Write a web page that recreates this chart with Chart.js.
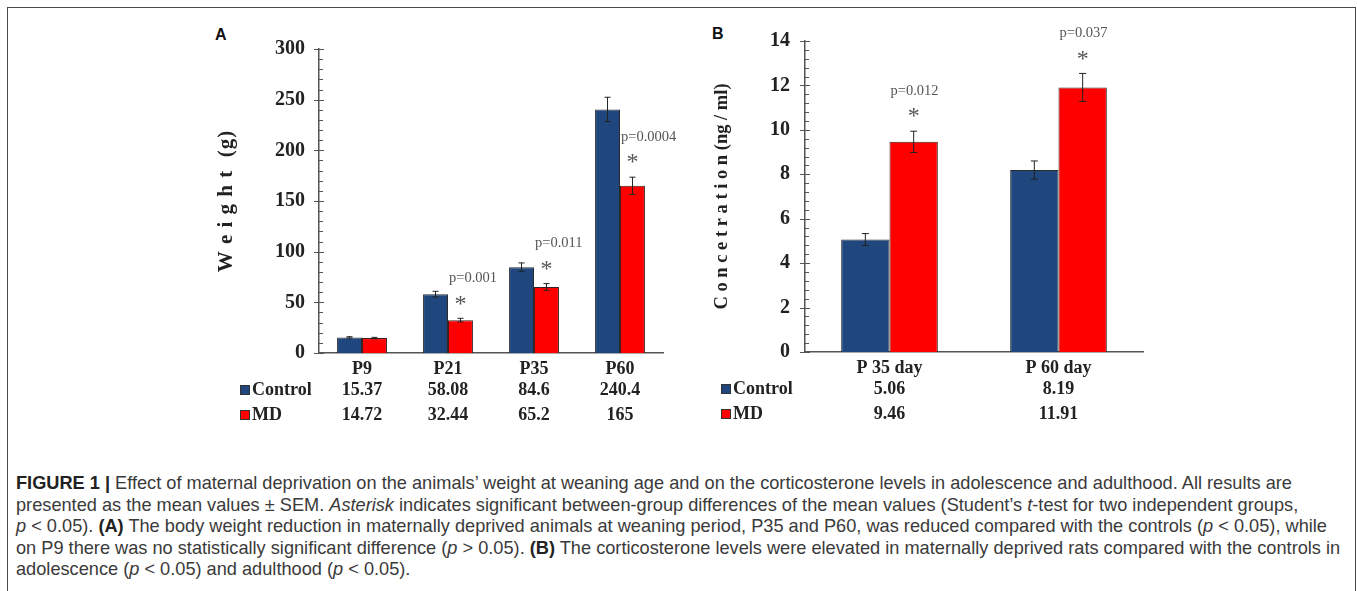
<!DOCTYPE html>
<html><head><meta charset="utf-8">
<script src="https://cdn.jsdelivr.net/npm/chart.js@4.4.1/dist/chart.umd.min.js"></script>
<style>
html,body{margin:0;padding:0;background:#fff;width:1357px;height:591px;overflow:hidden;position:relative}
#frame{position:absolute;left:7px;top:7px;width:1349px;height:640px;border:1.5px solid #4a4a4a;border-bottom:none;box-sizing:border-box}
.chart{position:absolute}
#wa{left:200px;top:20px;width:480px;height:420px}
#wb{left:700px;top:20px;width:460px;height:420px}
.panel{position:absolute;font:bold 16px "Liberation Sans",Arial,sans-serif;line-height:16px;color:#111}
#caption{position:absolute;left:16px;top:473px;font-family:"Liberation Sans",Arial,sans-serif;font-size:16px;color:#3a3a3a;line-height:21.5px;white-space:nowrap}
#caption b{color:#222}
</style></head>
<body>
<div id="frame"></div>
<div class="panel" style="left:215px;top:27px">A</div>
<div class="panel" style="left:712px;top:26px">B</div>
<div class="chart" id="wa"><canvas id="ca"></canvas></div>
<div class="chart" id="wb"><canvas id="cb"></canvas></div>
<div id="caption">
<div id="l1"><b>FIGURE 1 |</b> Effect of maternal deprivation on the animals’ weight at weaning age and on the corticosterone levels in adolescence and adulthood. All results are</div>
<div>presented as the mean values ± SEM. <i>Asterisk</i> indicates significant between-group differences of the mean values (Student’s <i>t</i>-test for two independent groups,</div>
<div><i>p</i> &lt; 0.05). <b>(A)</b> The body weight reduction in maternally deprived animals at weaning period, P35 and P60, was reduced compared with the controls (<i>p</i> &lt; 0.05), while</div>
<div>on P9 there was no statistically significant difference (<i>p</i> &gt; 0.05). <b>(B)</b> The corticosterone levels were elevated in maternally deprived rats compared with the controls in</div>
<div>adolescence (<i>p</i> &lt; 0.05) and adulthood (<i>p</i> &lt; 0.05).</div>
</div>
<script>
// ---------- Data ----------
const seriesNames = ['Control', 'MD'];
const categoriesA = ['P9', 'P21', 'P35', 'P60'];
const controlA = [15.37, 58.08, 84.6, 240.4];
const mdA = [14.72, 32.44, 65.2, 165];
const controlErrA = [0.7, 2.8, 4.3, 12];
const mdErrA = [0.7, 1.8, 3.3, 8.5];
const pLabelsA = ['', 'p=0.001', 'p=0.011', 'p=0.0004'];
const yTitleA = 'W e i g h t  (g)';

const categoriesB = ['P 35 day', 'P 60 day'];
const controlB = [5.06, 8.19];
const mdB = [9.46, 11.91];
const controlErrB = [0.27, 0.41];
const mdErrB = [0.48, 0.63];
const pLabelsB = ['p=0.012', 'p=0.037'];
const yTitleB = 'C o n c e t r a t i o n (ng / ml)';

// ---------- Styles ----------
const BLUE = '#1f477e';
const RED = '#ff0000';
const SERIF = '"Liberation Serif","Times New Roman",serif';

function extrasPlugin(cfg) {
  return {
    id: 'extras',
    afterDatasetsDraw(chart) {
      const ctx = chart.ctx, y = chart.scales.y, x = chart.scales.x, area = chart.chartArea;
      ctx.save();
      // error bars
      chart.data.datasets.forEach((ds, di) => {
        const meta = chart.getDatasetMeta(di);
        meta.data.forEach((bar, i) => {
          const v = ds.data[i], e = ds.errors[i];
          const yt = y.getPixelForValue(v + e), yb = y.getPixelForValue(v - e);
          ctx.strokeStyle = '#222'; ctx.lineWidth = 1;
          ctx.beginPath();
          ctx.moveTo(bar.x, yt); ctx.lineTo(bar.x, yb);
          ctx.moveTo(bar.x - cfg.cap, yt); ctx.lineTo(bar.x + cfg.cap, yt);
          ctx.moveTo(bar.x - cfg.cap, yb); ctx.lineTo(bar.x + cfg.cap, yb);
          ctx.stroke();
        });
      });
      // significance annotations on MD bars
      const mdMeta = chart.getDatasetMeta(1), mdDs = chart.data.datasets[1];
      cfg.pLabels.forEach((lab, i) => {
        if (!lab) return;
        const bar = mdMeta.data[i];
        const top = y.getPixelForValue(mdDs.data[i] + mdDs.errors[i]);
        ctx.fillStyle = '#555';
        ctx.textBaseline = 'middle';
        ctx.font = '14.5px ' + SERIF;
        ctx.textAlign = 'left';
        ctx.fillText(lab, bar.x - bar.width / 2 + 1, top - 40);
        ctx.font = '24px ' + SERIF;
        ctx.textAlign = 'center';
        ctx.fillText('*', bar.x, top - 14);
      });
      // y axis tick marks (major crossing, minor inside)
      ctx.strokeStyle = '#555'; ctx.lineWidth = 1;
      const n = Math.round((cfg.max - cfg.min) / cfg.minor);
      const every = Math.round(cfg.step / cfg.minor);
      ctx.beginPath();
      for (let k = 0; k <= n; k++) {
        const py = Math.round(y.getPixelForValue(cfg.min + k * cfg.minor)) + 0.5;
        if (k % every === 0) { ctx.moveTo(area.left - 5, py); ctx.lineTo(area.left + 5, py); }
        else { ctx.moveTo(area.left, py); ctx.lineTo(area.left + 4, py); }
      }
      ctx.stroke();
      // y title
      ctx.save();
      ctx.translate(area.left - cfg.titleOffset, (area.top + area.bottom) / 2);
      ctx.rotate(-Math.PI / 2);
      ctx.textAlign = 'center'; ctx.textBaseline = 'middle';
      ctx.fillStyle = '#222';
      ctx.font = 'bold ' + cfg.titleSize + 'px ' + SERIF;
      if ('letterSpacing' in ctx) ctx.letterSpacing = cfg.titleSpacing;
      ctx.fillText(cfg.title, 0, 0);
      if ('letterSpacing' in ctx) ctx.letterSpacing = '0px';
      ctx.restore();
      // legend table
      ctx.font = 'bold 18px ' + SERIF;
      ctx.textBaseline = 'middle';
      chart.data.datasets.forEach((ds, di) => {
        const ry = area.bottom + cfg.rowY[di];
        const sx = area.left - cfg.sqOffset;
        ctx.fillStyle = ds.backgroundColor;
        ctx.fillRect(sx, ry - 5, 10, 10);
        ctx.strokeStyle = '#333'; ctx.lineWidth = 1;
        ctx.strokeRect(sx + 0.5, ry - 4.5, 9, 9);
        ctx.fillStyle = '#222';
        ctx.textAlign = 'left';
        ctx.fillText(ds.label, sx + 12, ry);
        ctx.textAlign = 'center';
        ds.data.forEach((v, i) => ctx.fillText(String(v), x.getPixelForValue(i), ry));
      });
      ctx.restore();
    }
  };
}

function makeChart(id, cats, ctrl, md, ctrlErr, mdErr, yMin, yMax, step, pad, catPct, cfg) {
  return new Chart(document.getElementById(id), {
    type: 'bar',
    data: {
      labels: cats,
      datasets: [
        { label: seriesNames[0], data: ctrl, errors: ctrlErr, backgroundColor: BLUE, borderColor: '#2a2a2a', borderWidth: 1 },
        { label: seriesNames[1], data: md, errors: mdErr, backgroundColor: RED, borderColor: '#3a2020', borderWidth: 1 }
      ]
    },
    options: {
      responsive: true, maintainAspectRatio: false, animation: false,
      devicePixelRatio: 1,
      layout: { padding: pad },
      datasets: { bar: { categoryPercentage: catPct, barPercentage: 1.0 } },
      plugins: { legend: { display: false }, tooltip: { enabled: false } },
      scales: {
        x: {
          grid: { display: false, drawTicks: false, tickLength: 0 },
          border: { display: true, color: '#555', width: 1.5 },
          ticks: { font: { family: SERIF, weight: 'bold', size: 18 }, color: '#222', padding: 6 },
          afterFit(s) { s.height = 30; }
        },
        y: {
          min: yMin, max: yMax,
          grid: { display: false, drawTicks: false, tickLength: 0 },
          border: { display: true, color: '#555', width: 1.5 },
          ticks: { stepSize: step, font: { family: SERIF, weight: 'bold', size: 20 }, color: '#222', padding: cfg.tickPad },
          afterFit(s) { s.width = 60; s.paddingTop = 8; s.paddingBottom = 8; }
        }
      }
    },
    plugins: [extrasPlugin(cfg)]
  });
}

makeChart('ca', categoriesA, controlA, mdA, controlErrA, mdErrA, 0, 300, 50,
  { left: 59, right: 17, top: 29, bottom: 57 }, 0.58,
  { cap: 3, pLabels: pLabelsA, min: 0, max: 300, step: 50, minor: 10, tickPad: 14,
    title: yTitleA, titleSize: 21, titleSpacing: '1px', titleOffset: 92, rowY: [37, 62], sqOffset: 79 });

makeChart('cb', categoriesB, controlB, mdB, controlErrB, mdErrB, 0, 14, 2,
  { left: 45, right: 17, top: 21, bottom: 58 }, 0.572,
  { cap: 3.5, pLabels: pLabelsB, min: 0, max: 14, step: 2, minor: 0.4, tickPad: 15,
    title: yTitleB, titleSize: 18.5, titleSpacing: '0px', titleOffset: 83, rowY: [37, 62], sqOffset: 84 });

// fit caption font so the first line spans the same width as the reference
(function () {
  const cap = document.getElementById('caption');
  const l1 = document.getElementById('l1');
  const r = document.createRange(); r.selectNodeContents(l1);
  const w = r.getBoundingClientRect().width;
  const fs = 16 * 1277 / w;
  cap.style.fontSize = fs.toFixed(2) + 'px';
})();
</script>
</body></html>
